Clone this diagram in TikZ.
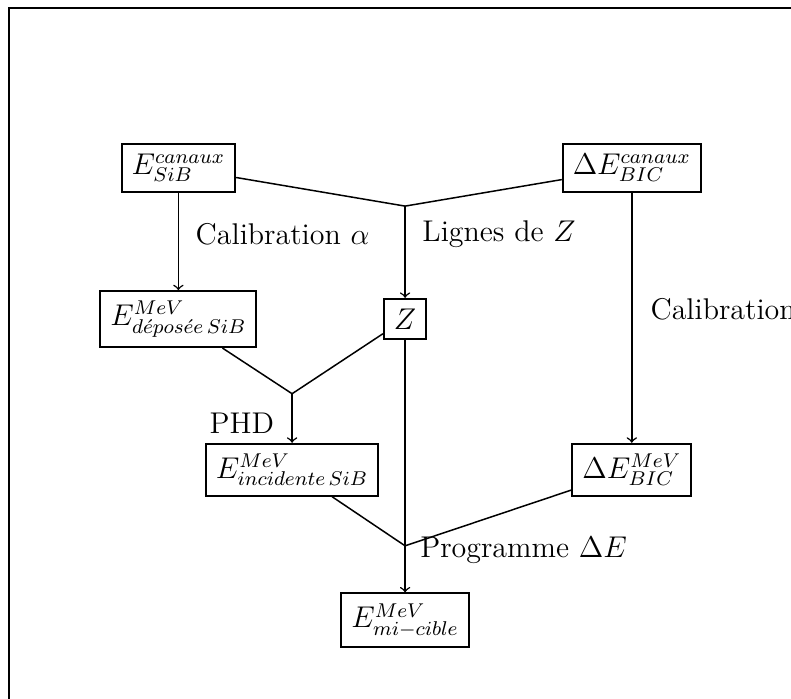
\documentclass[tikz,border=0pt,12pt]{standalone}
\usepackage{tikz}
\usetikzlibrary{positioning,calc}
\tikzset{
    % boxes holding the energies
    energie/.style={
        draw,
        rectangle,
        line width=0.8pt,
    },
    % plain text beside the lines
    etiquette/.style={
        inner sep=3.33pt,
    },
    % connectors
    trait/.style={
        line width=0.6pt,
    },
    fleche/.style={
        trait,
        ->,
    },
}
\begin{document}
\begin{tikzpicture}
    \useasboundingbox (0,0) rectangle (11.13,-9.83);
    \draw[line width=0.8pt] (0.13,-0.11) rectangle (11.4,-10.1);

    % first row
    \node (canauxSiB) [energie] at (2.51,-2.36) {$E^{canaux}_{SiB}$};
    \node (canauxBIC) [energie] at (8.89,-2.36) {$\Delta E^{canaux}_{BIC}$};
    \coordinate (j1) at (5.70,-2.90);

    % second row
    \node (deposee) [energie] at (2.51,-4.49) {$E^{MeV}_{d\acute{e}pos\acute{e}e\,SiB}$};
    \node (Z) [energie] at (5.70,-4.49) {$Z$};
    \coordinate (j2) at (4.11,-5.54);

    % third row
    \node (incidente) [energie] at (4.11,-6.61) {$E^{MeV}_{incidente\,SiB}$};
    \node (MeVBIC) [energie] at (8.89,-6.61) {$\Delta E^{MeV}_{BIC}$};
    \coordinate (j3) at (5.70,-7.68);

    % last
    \node (micible) [energie] at (5.70,-8.73) {$E^{MeV}_{mi-cible}$};

    % labels
    \node [etiquette, anchor=west] at (2.63,-3.29) {Calibration $\alpha$};
    \node [etiquette, anchor=west] at (5.82,-3.29) {Lignes de $Z$};
    \node [etiquette, anchor=west] at (9.03,-4.35) {Calibration};
    \node [etiquette, anchor=east] at (3.98,-5.95) {PHD};
    \node [etiquette, anchor=west] at (5.79,-7.75) {Programme $\Delta E$};

    % connectors
    \draw [fleche] (canauxSiB) -- (deposee);
    \draw [trait] (canauxSiB) -- (j1);
    \draw [trait] (canauxBIC) -- (j1);
    \draw [fleche] (j1) -- (Z);
    \draw [fleche] (canauxBIC) -- (MeVBIC);
    \draw [trait] (deposee) -- (j2);
    \draw [trait] (Z) -- (j2);
    \draw [fleche] (j2) -- (incidente);
    \draw [trait] (Z) -- (j3);
    \draw [trait] (incidente) -- (j3);
    \draw [trait] (MeVBIC) -- (j3);
    \draw [fleche] (j3) -- (micible);
\end{tikzpicture}
\end{document}
